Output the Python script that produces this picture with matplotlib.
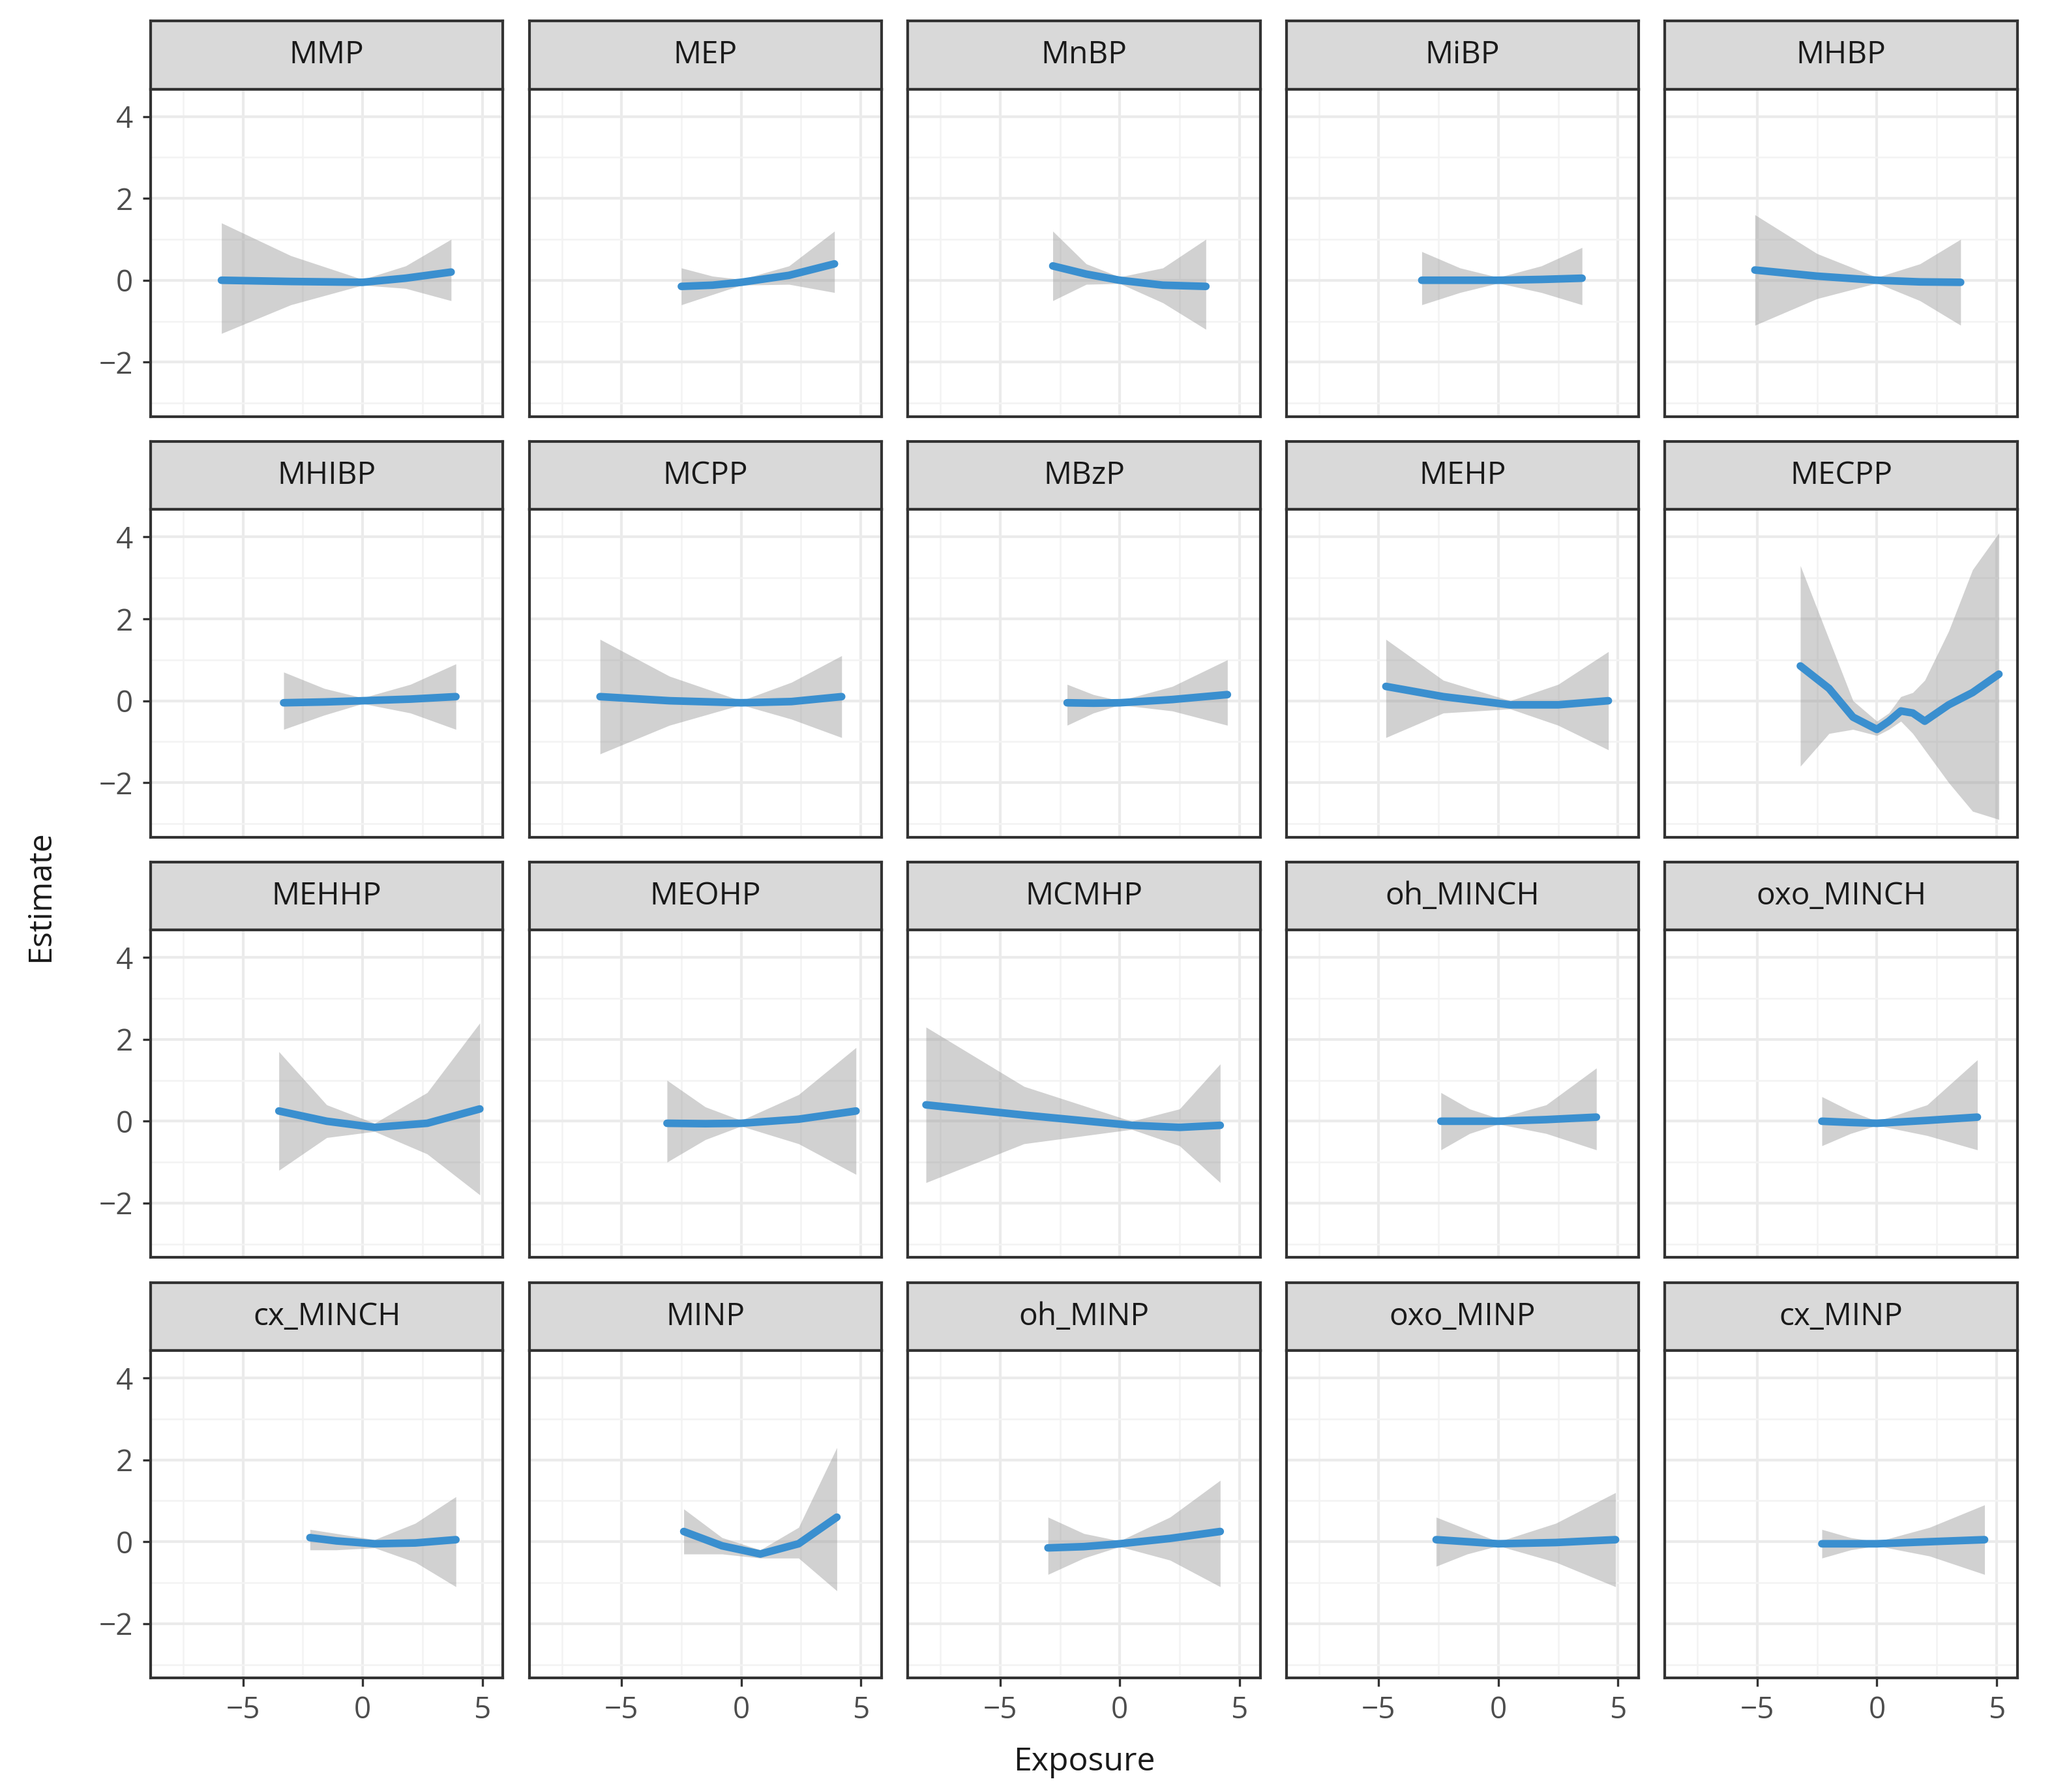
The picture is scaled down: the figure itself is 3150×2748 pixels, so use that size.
import numpy as np
import matplotlib
matplotlib.use("Agg")
from matplotlib import pyplot as plt

plt.rcParams['font.family'] = ['Open Sans', 'DejaVu Sans']

names = ['MMP', 'MEP', 'MnBP', 'MiBP', 'MHBP',
         'MHIBP', 'MCPP', 'MBzP', 'MEHP', 'MECPP',
         'MEHHP', 'MEOHP', 'MCMHP', 'oh_MINCH', 'oxo_MINCH',
         'cx_MINCH', 'MINP', 'oh_MINP', 'oxo_MINP', 'cx_MINP']

# exposure points along each smooth curve
xs = {
    'MMP': [-5.9, -3.0, 0.0, 1.8, 3.7],
    'MEP': [-2.5, -1.2, 0.0, 2.0, 3.9],
    'MnBP': [-2.8, -1.4, 0.0, 1.8, 3.6],
    'MiBP': [-3.2, -1.6, 0.0, 1.8, 3.5],
    'MHBP': [-5.1, -2.5, 0.0, 1.8, 3.5],
    'MHIBP': [-3.3, -1.6, 0.0, 2.0, 3.9],
    'MCPP': [-5.9, -3.0, 0.0, 2.1, 4.2],
    'MBzP': [-2.2, -1.1, 0.0, 2.2, 4.5],
    'MEHP': [-4.7, -2.3, 0.5, 2.5, 4.6],
    'MECPP': [-3.2, -2.0, -1.0, 0.0, 0.5, 1.0, 1.5, 2.0, 3.0, 4.0, 5.1],
    'MEHHP': [-3.5, -1.5, 0.5, 2.7, 4.9],
    'MEOHP': [-3.1, -1.5, 0.0, 2.4, 4.8],
    'MCMHP': [-8.1, -4.0, 0.5, 2.5, 4.2],
    'oh_MINCH': [-2.4, -1.2, 0.0, 2.0, 4.1],
    'oxo_MINCH': [-2.3, -1.1, 0.0, 2.1, 4.2],
    'cx_MINCH': [-2.2, -1.1, 0.5, 2.2, 3.9],
    'MINP': [-2.4, -0.8, 0.8, 2.4, 4.0],
    'oh_MINP': [-3.0, -1.5, 0.0, 2.1, 4.2],
    'oxo_MINP': [-2.6, -1.3, 0.0, 2.4, 4.9],
    'cx_MINP': [-2.3, -1.1, 0.0, 2.2, 4.5],
}
est = {
    'MMP': [0.0, -0.03, -0.05, 0.05, 0.2],
    'MEP': [-0.15, -0.12, -0.05, 0.12, 0.4],
    'MnBP': [0.35, 0.15, 0.0, -0.12, -0.15],
    'MiBP': [0.0, 0.0, 0.0, 0.02, 0.05],
    'MHBP': [0.25, 0.1, 0.0, -0.04, -0.05],
    'MHIBP': [-0.05, -0.03, 0.0, 0.04, 0.1],
    'MCPP': [0.1, 0.0, -0.05, -0.02, 0.1],
    'MBzP': [-0.05, -0.06, -0.05, 0.03, 0.15],
    'MEHP': [0.35, 0.1, -0.1, -0.1, 0.0],
    'MECPP': [0.85, 0.3, -0.4, -0.7, -0.5, -0.25, -0.3, -0.5, -0.1, 0.2, 0.65],
    'MEHHP': [0.25, 0.0, -0.15, -0.05, 0.3],
    'MEOHP': [-0.05, -0.06, -0.05, 0.05, 0.25],
    'MCMHP': [0.4, 0.15, -0.1, -0.15, -0.1],
    'oh_MINCH': [0.0, 0.0, 0.0, 0.04, 0.1],
    'oxo_MINCH': [0.0, -0.03, -0.05, 0.02, 0.1],
    'cx_MINCH': [0.1, 0.02, -0.05, -0.03, 0.05],
    'MINP': [0.25, -0.1, -0.3, -0.05, 0.6],
    'oh_MINP': [-0.15, -0.12, -0.05, 0.08, 0.25],
    'oxo_MINP': [0.05, 0.0, -0.05, -0.02, 0.05],
    'cx_MINP': [-0.05, -0.05, -0.05, 0.0, 0.05],
}
lower = {
    'MMP': [-1.3, -0.6, -0.12, -0.2, -0.5],
    'MEP': [-0.6, -0.35, -0.12, -0.1, -0.3],
    'MnBP': [-0.5, -0.1, -0.08, -0.55, -1.2],
    'MiBP': [-0.6, -0.3, -0.07, -0.3, -0.6],
    'MHBP': [-1.1, -0.45, -0.07, -0.5, -1.1],
    'MHIBP': [-0.7, -0.35, -0.07, -0.3, -0.7],
    'MCPP': [-1.3, -0.6, -0.1, -0.45, -0.9],
    'MBzP': [-0.6, -0.3, -0.1, -0.25, -0.6],
    'MEHP': [-0.9, -0.3, -0.2, -0.6, -1.2],
    'MECPP': [-1.6, -0.8, -0.7, -0.85, -0.7, -0.5, -0.8, -1.2, -2.0, -2.7, -2.9],
    'MEHHP': [-1.2, -0.4, -0.25, -0.8, -1.8],
    'MEOHP': [-1.0, -0.45, -0.12, -0.55, -1.3],
    'MCMHP': [-1.5, -0.55, -0.2, -0.6, -1.5],
    'oh_MINCH': [-0.7, -0.3, -0.07, -0.3, -0.7],
    'oxo_MINCH': [-0.6, -0.3, -0.1, -0.35, -0.7],
    'cx_MINCH': [-0.2, -0.2, -0.15, -0.5, -1.1],
    'MINP': [-0.3, -0.3, -0.4, -0.4, -1.2],
    'oh_MINP': [-0.8, -0.4, -0.12, -0.45, -1.1],
    'oxo_MINP': [-0.6, -0.3, -0.1, -0.5, -1.1],
    'cx_MINP': [-0.4, -0.2, -0.1, -0.35, -0.8],
}
upper = {
    'MMP': [1.4, 0.6, 0.02, 0.35, 1.0],
    'MEP': [0.3, 0.1, 0.02, 0.35, 1.2],
    'MnBP': [1.2, 0.4, 0.08, 0.3, 1.0],
    'MiBP': [0.7, 0.3, 0.07, 0.35, 0.8],
    'MHBP': [1.6, 0.65, 0.07, 0.4, 1.0],
    'MHIBP': [0.7, 0.3, 0.07, 0.4, 0.9],
    'MCPP': [1.5, 0.6, 0.0, 0.45, 1.1],
    'MBzP': [0.4, 0.15, 0.0, 0.35, 1.0],
    'MEHP': [1.5, 0.5, 0.0, 0.4, 1.2],
    'MECPP': [3.3, 1.5, 0.0, -0.5, -0.3, 0.1, 0.2, 0.5, 1.7, 3.2, 4.1],
    'MEHHP': [1.7, 0.4, -0.05, 0.7, 2.4],
    'MEOHP': [1.0, 0.35, 0.02, 0.65, 1.8],
    'MCMHP': [2.3, 0.85, 0.0, 0.3, 1.4],
    'oh_MINCH': [0.7, 0.3, 0.07, 0.4, 1.3],
    'oxo_MINCH': [0.6, 0.25, 0.0, 0.4, 1.5],
    'cx_MINCH': [0.3, 0.2, 0.05, 0.45, 1.1],
    'MINP': [0.8, 0.1, -0.2, 0.35, 2.3],
    'oh_MINP': [0.6, 0.2, 0.02, 0.6, 1.5],
    'oxo_MINP': [0.6, 0.3, 0.0, 0.45, 1.2],
    'cx_MINP': [0.3, 0.1, 0.0, 0.35, 0.9],
}

W, H = 1568.0, 1368.0
left, top = 115, 16
pw, ph, sh = 269, 250, 52
hgap, vgap = 20, 19

fig = plt.figure(figsize=(10.5, 9.16), dpi=300)
for i, nm in enumerate(names):
    r, c = divmod(i, 5)
    x0 = left + c * (pw + hgap)
    y0 = top + r * (sh + ph + vgap)
    sax = fig.add_axes([x0 / W, 1 - (y0 + sh) / H, pw / W, sh / H])
    sax.set_facecolor('#d9d9d9')
    sax.set_xticks([]); sax.set_yticks([])
    for s in sax.spines.values():
        s.set_color('#333333'); s.set_linewidth(1.0)
    sax.text(0.5, 0.5, nm, ha='center', va='center', fontsize=11.5, color='#1a1a1a', transform=sax.transAxes)

    ax = fig.add_axes([x0 / W, 1 - (y0 + sh + ph) / H, pw / W, ph / H])
    ax.set_facecolor('white')
    ax.set_xlim(-8.86, 5.87)
    ax.set_ylim(-3.33, 4.67)
    ax.set_xticks([-5, 0, 5]); ax.set_yticks([-2, 0, 2, 4])
    ax.set_xticks([-7.5, -2.5, 2.5], minor=True)
    ax.set_yticks([-3, -1, 1, 3], minor=True)
    ax.grid(which='major', color='#ebebeb', lw=1.0)
    ax.grid(which='minor', color='#f3f3f3', lw=0.6)
    ax.set_axisbelow(True)
    for s in ax.spines.values():
        s.set_color('#333333'); s.set_linewidth(1.0)
    ax.tick_params(which='minor', length=0)
    ax.tick_params(which='major', length=3, color='#333333', labelsize=11, labelcolor='#4d4d4d')
    if c != 0:
        ax.tick_params(axis='y', labelleft=False, length=0)
    if r != 3:
        ax.tick_params(axis='x', labelbottom=False, length=0)
    ax.fill_between(xs[nm], lower[nm], upper[nm], color='#999999', alpha=0.45, lw=0)
    ax.plot(xs[nm], est[nm], color='#3a8fcf', lw=2.8, solid_capstyle='round')

fig.text((left + (5 * pw + 4 * hgap) / 2) / W, 0.012, 'Exposure', ha='center', fontsize=12, color='#1a1a1a')
fig.text(0.012, 0.5, 'Estimate', va='center', rotation=90, fontsize=12, color='#1a1a1a')
fig.savefig('out.png', dpi=300, facecolor='white')
